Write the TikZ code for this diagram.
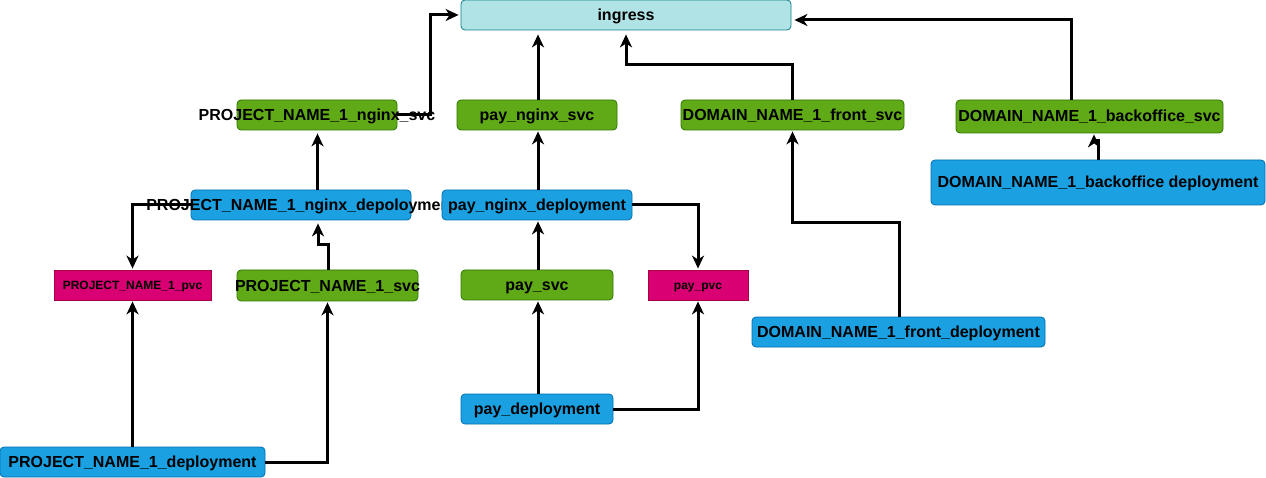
\documentclass[tikz,border=0pt]{standalone}
\usepackage{fontspec}
\setmainfont{Liberation Sans}
\usetikzlibrary{arrows.meta,calc}
\definecolor{ingfill}{HTML}{B0E3E6}
\definecolor{ingline}{HTML}{0E8088}
\definecolor{grfill}{HTML}{60A917}
\definecolor{grline}{HTML}{2D7600}
\definecolor{blfill}{HTML}{1BA1E2}
\definecolor{blline}{HTML}{006EAF}
\definecolor{mgfill}{HTML}{D80073}
\definecolor{mgline}{HTML}{A50040}
\newcommand{\ctext}[2][11pt]{\raisebox{0pt}[#1][0pt]{\makebox[0pt][c]{#2}}}
\tikzset{
  base/.style={draw, line width=0.8pt, inner sep=0pt, font=\fontsize{16}{18}\selectfont\bfseries, text=black},
  ingbox/.style={base, fill=ingfill, draw=ingline, rounded corners=4pt},
  svcbox/.style={base, fill=grfill, draw=grline, rounded corners=4pt},
  depbox/.style={base, fill=blfill, draw=blline, rounded corners=4pt},
  pvcbox/.style={base, fill=mgfill, draw=mgline, font=\fontsize{12}{14}\selectfont\bfseries},
  conn/.style={line width=3pt, -{Stealth[length=13pt,width=12pt,inset=4pt]}, shorten >=1pt},
  wh/.style 2 args={minimum width=#1, minimum height=#2}
}
\begin{document}
\begin{tikzpicture}[x=1pt,y=-1pt]
\useasboundingbox (0,0) rectangle (1266,478);
\node[ingbox, wh={330pt}{30pt}] (ingress) at (626,15) {\ctext{ingress}};
\node[svcbox, wh={160pt}{30pt}] (pns) at (317,115) {\ctext{PROJECT\_NAME\_1\_nginx\_svc}};
\node[svcbox, wh={160pt}{30pt}] (pnsvc) at (537,115) {\ctext{pay\_nginx\_svc}};
\node[svcbox, wh={223pt}{30pt}] (fsvc) at (792.5,115) {\ctext{DOMAIN\_NAME\_1\_front\_svc}};
\node[svcbox, wh={267pt}{33pt}] (bsvc) at (1089.5,116.5) {\ctext{DOMAIN\_NAME\_1\_backoffice\_svc}};
\node[depbox, wh={334pt}{45pt}] (bdep) at (1098,182.5) {\ctext{DOMAIN\_NAME\_1\_backoffice deployment}};
\node[depbox, wh={220pt}{30pt}] (pnd) at (301,205) {\ctext{PROJECT\_NAME\_1\_nginx\_depoloyment}};
\node[depbox, wh={190pt}{30pt}] (paynd) at (537,205) {\ctext{pay\_nginx\_deployment}};
\node[pvcbox, wh={157pt}{30pt}] (ppvc) at (132.5,285) {\ctext[8.5pt]{PROJECT\_NAME\_1\_pvc}};
\node[svcbox, wh={181pt}{31pt}] (psvc) at (327.5,285.5) {\ctext{PROJECT\_NAME\_1\_svc}};
\node[svcbox, wh={152pt}{30pt}] (paysvc) at (537,285) {\ctext{pay\_svc}};
\node[pvcbox, wh={100pt}{30pt}] (paypvc) at (698,285) {\ctext[8.5pt]{pay\_pvc}};
\node[depbox, wh={293pt}{30pt}] (fdep) at (898.5,332) {\ctext{DOMAIN\_NAME\_1\_front\_deployment}};
\node[depbox, wh={152pt}{30pt}] (paydep) at (537,409) {\ctext{pay\_deployment}};
\node[depbox, wh={265pt}{30pt}] (pdep) at (132.5,462) {\ctext{PROJECT\_NAME\_1\_deployment}};
% connectors
\draw[conn, shorten >=2pt] (pns.east) -- ++(33,0) |- (ingress.west);
\draw[conn, shorten >=4pt] ($(pnsvc.north)+(1,0)$) -- ($(pnsvc.north |- ingress.south)+(1,0)$);
\draw[conn, shorten >=4pt] (fsvc.north) -- ++(0,-35) -| (ingress.south);
\draw[conn, shorten >=3pt] ($(bsvc.north)+(-18.5,0)$) |- ($(ingress.east)+(0,5)$);
\draw[line width=3pt] (bdep.north) -- ++(0,-19) -- ++(-4,0);
\draw[conn] ($(bdep.north)+(-4,-19)$) -- ($(bsvc.south)+(4.5,0)$);
\draw[conn, shorten >=3pt] ($(pnd.north)+(16.5,0)$) -- ($(pns.south)+(0.5,0)$);
\draw[conn] (pnd.west) -| (ppvc.north);
\draw[conn, shorten >=3pt] ($(psvc.north)+(0.5,0)$) -- ++(0,-25) -| ($(pnd.south)+(17,0)$);
\draw[conn] (pdep.north) -- (ppvc.south);
\draw[conn] (pdep.east) -| (psvc.south);
\draw[conn] ($(paynd.north)+(1,0)$) -- ($(pnsvc.south)+(1,0)$);
\draw[conn] (paynd.east) -| (paypvc.north);
\draw[conn] ($(paysvc.north)+(1,0)$) -- ($(paynd.south)+(1,0)$);
\draw[conn] ($(paydep.north)+(1,0)$) -- ($(paysvc.south)+(1,0)$);
\draw[conn] (paydep.east) -| (paypvc.south);
\draw[conn] ($(fdep.north)+(0.5,0)$) -- ++(0,-94) -| (fsvc.south);
\end{tikzpicture}
\end{document}
